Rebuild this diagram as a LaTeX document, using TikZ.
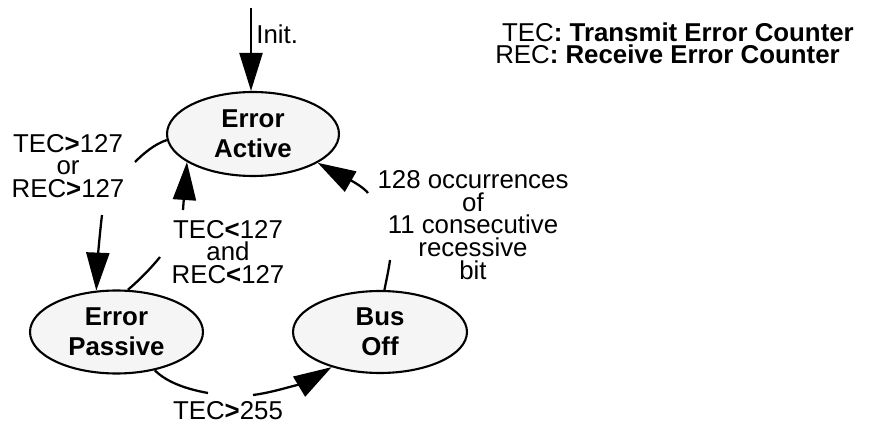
\documentclass[tikz,border=0pt]{standalone}
\usepackage{fontspec}
\setmainfont{Liberation Sans}
\usetikzlibrary{positioning,arrows.meta,shapes.geometric}

\begin{document}
\begin{tikzpicture}[
  x=0.02cm, y=-0.02cm,
  state/.style = {ellipse, draw=black, line width=1.2pt, fill=black!4, inner sep=0pt,
                  minimum width=3.46cm, minimum height=1.66cm, align=center,
                  font=\fontsize{14.7}{17}\selectfont\bfseries},
  lbl/.style   = {inner sep=0pt, align=center, font=\fontsize{14.7}{13}\selectfont},
  arr/.style   = {-{Triangle[length=0.76cm,width=0.46cm]}, line width=1.3pt},
  line/.style  = {line width=1.3pt}]

\useasboundingbox (0,0) rectangle (872,425);

% the three states
\node[state, minimum width=3.44cm, minimum height=1.68cm] (ea) at (253,134) {Error\\Active};
\node[state] (ep) at (116.5,332) {Error\\Passive};
\node[state, minimum width=3.48cm, minimum height=1.64cm] (bo) at (380,332) {Bus\\Off};

% reset entry
\coordinate (init) at (251,8);
\draw[arr] (init) -- (init |- ea.north);
\node[lbl, anchor=west] (initlbl) at (256,34) {Init.};

% active -> passive, broken round its label
\coordinate (la1) at (135,162);
\coordinate (la2) at (102,215);
\draw[line] (ea.184) .. controls +(-12,4) and +(9,-9) .. (la1);
\draw[arr] (la2) .. controls +(-3,25) and +(1,-25) .. (ep.116);
\node[lbl] (uplbl) at (68,166) {TEC\textbf{>}127\\or\\REC\textbf{>}127};

% passive -> active
\coordinate (ia1) at (160,257);
\coordinate (ia2) at (183,210);
\draw[line] (ep.75) .. controls +(12,-10) and +(-8,10) .. (ia1);
\draw[arr] (ia2) .. controls +(1,-15) and +(-1,15) .. (ea.203);
\node[lbl] (downlbl) at (228,252) {TEC\textbf{<}127\\and\\REC\textbf{<}127};

% bus off -> active
\coordinate (ba1) at (390,260);
\coordinate (ba2) at (368,193);
\draw[line] (bo.84) .. controls +(2,-10) and +(-1,8) .. (ba1);
\draw[arr] (ba2) .. controls +(-8,-10) and +(14,8) .. (ea.336);
\node[lbl] (recovlbl) at (473,225) {128 occurrences\\of\\11 consecutive\\recessive\\bit};

% passive -> bus off
\coordinate (pb1) at (208,393);
\coordinate (pb2) at (253,395);
\draw[line] (ep.315) .. controls +(12,12) and +(-22,-4) .. (pb1);
\draw[arr] (pb2) .. controls +(25,-3) and +(-20,12) .. (bo.216);
\node[lbl] (offlbl) at (228,411) {TEC\textbf{>}255};

% legend
\node[lbl] (legtec) at (678,32) {TEC\textbf{: Transmit Error Counter}};
\node[lbl] (legrec) at (667.5,54) {REC\textbf{: Receive Error Counter}};

\end{tikzpicture}
\end{document}
